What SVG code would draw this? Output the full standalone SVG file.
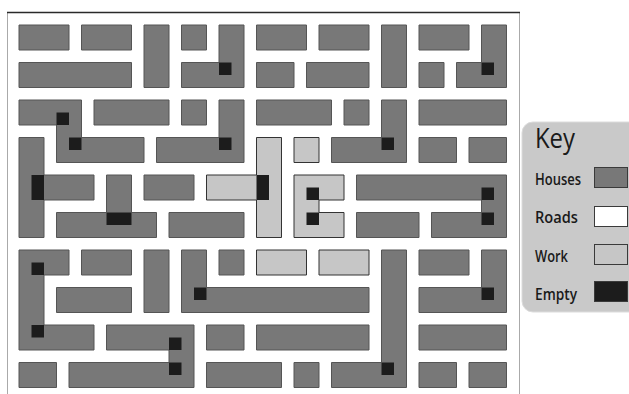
<svg xmlns="http://www.w3.org/2000/svg" width="629" height="394" viewBox="0 0 629 394">
<style>
.h{fill:#787878;stroke:#555;stroke-width:1;vector-effect:non-scaling-stroke}
.w{fill:#c6c6c6;stroke:#333;stroke-width:1;vector-effect:non-scaling-stroke}
.e{fill:#1c1c1c}
.lbl{font-family:"Open Sans","Liberation Sans",sans-serif;font-weight:600;font-size:17px;fill:#1a1a1a}
.sw{stroke:#3a3a3a;stroke-width:1}
</style>
<rect width="629" height="394" fill="#fff"/>
<g id="frame">
<rect x="7.5" y="12.5" width="512" height="400" fill="none" stroke="#aaa"/>
<line x1="7" y1="12.5" x2="520" y2="12.5" stroke="#2a2a2a" stroke-width="1.5"/>
</g>
<g id="map" transform="translate(19 25) scale(12.5)">
<g id="houses">
<rect class="h" x="0" y="0" width="4" height="2"/>
<rect class="h" x="5" y="0" width="4" height="2"/>
<rect class="h" x="10" y="0" width="2" height="5"/>
<rect class="h" x="13" y="0" width="2" height="2"/>
<polygon class="h" points="16,0 18,0 18,5 13,5 13,3 16,3"/>
<rect class="h" x="19" y="0" width="4" height="2"/>
<rect class="h" x="24" y="0" width="4" height="2"/>
<rect class="h" x="29" y="0" width="2" height="5"/>
<rect class="h" x="32" y="0" width="4" height="2"/>
<polygon class="h" points="37,0 39,0 39,5 35,5 35,3 37,3"/>
<rect class="h" x="0" y="3" width="9" height="2"/>
<rect class="h" x="19" y="3" width="3" height="2"/>
<rect class="h" x="23" y="3" width="5" height="2"/>
<rect class="h" x="32" y="3" width="2" height="2"/>
<polygon class="h" points="0,6 5,6 5,9 10,9 10,11 3,11 3,8 0,8"/>
<rect class="h" x="6" y="6" width="6" height="2"/>
<rect class="h" x="13" y="6" width="2" height="2"/>
<polygon class="h" points="16,6 18,6 18,11 11,11 11,9 16,9"/>
<rect class="h" x="19" y="6" width="6" height="2"/>
<rect class="h" x="26" y="6" width="2" height="2"/>
<polygon class="h" points="29,6 31,6 31,11 25,11 25,9 29,9"/>
<rect class="h" x="32" y="6" width="7" height="2"/>
<polygon class="h" points="0,9 2,9 2,12 6,12 6,14 2,14 2,17 0,17"/>
<rect class="h" x="32" y="9" width="3" height="2"/>
<rect class="h" x="36" y="9" width="3" height="2"/>
<polygon class="h" points="7,12 9,12 9,15 11,15 11,17 3,17 3,15 7,15"/>
<rect class="h" x="10" y="12" width="4" height="2"/>
<rect class="h" x="12" y="15" width="6" height="2"/>
<polygon class="h" points="27,12 39,12 39,17 33,17 33,15 37,15 37,14 27,14"/>
<rect class="h" x="27" y="15" width="5" height="2"/>
<polygon class="h" points="0,18 4,18 4,20 2,20 2,24 6,24 6,26 0,26"/>
<rect class="h" x="5" y="18" width="4" height="2"/>
<rect class="h" x="10" y="18" width="2" height="5"/>
<polygon class="h" points="13,18 15,18 15,21 28,21 28,23 13,23"/>
<rect class="h" x="16" y="18" width="2" height="2"/>
<polygon class="h" points="29,18 31,18 31,29 25,29 25,27 29,27"/>
<rect class="h" x="32" y="18" width="4" height="2"/>
<polygon class="h" points="37,18 39,18 39,23 32,23 32,21 37,21"/>
<rect class="h" x="3" y="21" width="6" height="2"/>
<polygon class="h" points="7,24 14,24 14,29 4,29 4,27 12,27 12,26 7,26"/>
<rect class="h" x="15" y="24" width="3" height="2"/>
<rect class="h" x="19" y="24" width="9" height="2"/>
<rect class="h" x="32" y="24" width="7" height="2"/>
<rect class="h" x="0" y="27" width="3" height="2"/>
<rect class="h" x="15" y="27" width="6" height="2"/>
<rect class="h" x="22" y="27" width="2" height="2"/>
<rect class="h" x="32" y="27" width="3" height="2"/>
<rect class="h" x="36" y="27" width="3" height="2"/>
</g>
<g id="work">
<polygon class="w" points="19,9 21,9 21,17 19,17 19,14 15,14 15,12 19,12"/>
<rect class="w" x="22" y="9" width="2" height="2"/>
<polygon class="w" points="22,12 26,12 26,14 24,14 24,15 26,15 26,17 22,17"/>
<rect class="w" x="19" y="18" width="4" height="2"/>
<rect class="w" x="24" y="18" width="4" height="2"/>
</g>
<g id="empty">
<rect class="e" x="16" y="3" width="1" height="1"/>
<rect class="e" x="37" y="3" width="1" height="1"/>
<rect class="e" x="3" y="7" width="1" height="1"/>
<rect class="e" x="4" y="9" width="1" height="1"/>
<rect class="e" x="16" y="9" width="1" height="1"/>
<rect class="e" x="29" y="9" width="1" height="1"/>
<rect class="e" x="1" y="12" width="1" height="2"/>
<rect class="e" x="19" y="12" width="1" height="2"/>
<rect class="e" x="23" y="13" width="1" height="1"/>
<rect class="e" x="23" y="15" width="1" height="1"/>
<rect class="e" x="37" y="13" width="1" height="1"/>
<rect class="e" x="37" y="15" width="1" height="1"/>
<rect class="e" x="7" y="15" width="2" height="1"/>
<rect class="e" x="1" y="19" width="1" height="1"/>
<rect class="e" x="1" y="24" width="1" height="1"/>
<rect class="e" x="12" y="25" width="1" height="1"/>
<rect class="e" x="12" y="27" width="1" height="1"/>
<rect class="e" x="14" y="21" width="1" height="1"/>
<rect class="e" x="37" y="21" width="1" height="1"/>
<rect class="e" x="29" y="27" width="1" height="1"/>
</g>
</g>
<g id="key">
<rect x="522" y="122" width="130" height="190" rx="11" fill="#c9c9c9" stroke="#dcdcdc"/>
<text x="535" y="148" font-family="'Open Sans','Liberation Sans',sans-serif" font-weight="500" font-size="28" fill="#1a1a1a" textLength="40" lengthAdjust="spacingAndGlyphs">Key</text>
<text class="lbl" x="535" y="185" textLength="46" lengthAdjust="spacingAndGlyphs">Houses</text>
<rect class="sw" x="594.5" y="167.5" width="33" height="20" fill="#787878"/>
<text class="lbl" x="535" y="223" textLength="43" lengthAdjust="spacingAndGlyphs">Roads</text>
<rect class="sw" x="594.5" y="206.5" width="33" height="20" fill="#fff"/>
<text class="lbl" x="535" y="262" textLength="33" lengthAdjust="spacingAndGlyphs">Work</text>
<rect class="sw" x="594.5" y="244.5" width="33" height="20" fill="#c6c6c6"/>
<text class="lbl" x="535" y="300" textLength="42" lengthAdjust="spacingAndGlyphs">Empty</text>
<rect class="sw" x="594.5" y="281.5" width="33" height="20" fill="#1c1c1c"/>
</g>
</svg>
